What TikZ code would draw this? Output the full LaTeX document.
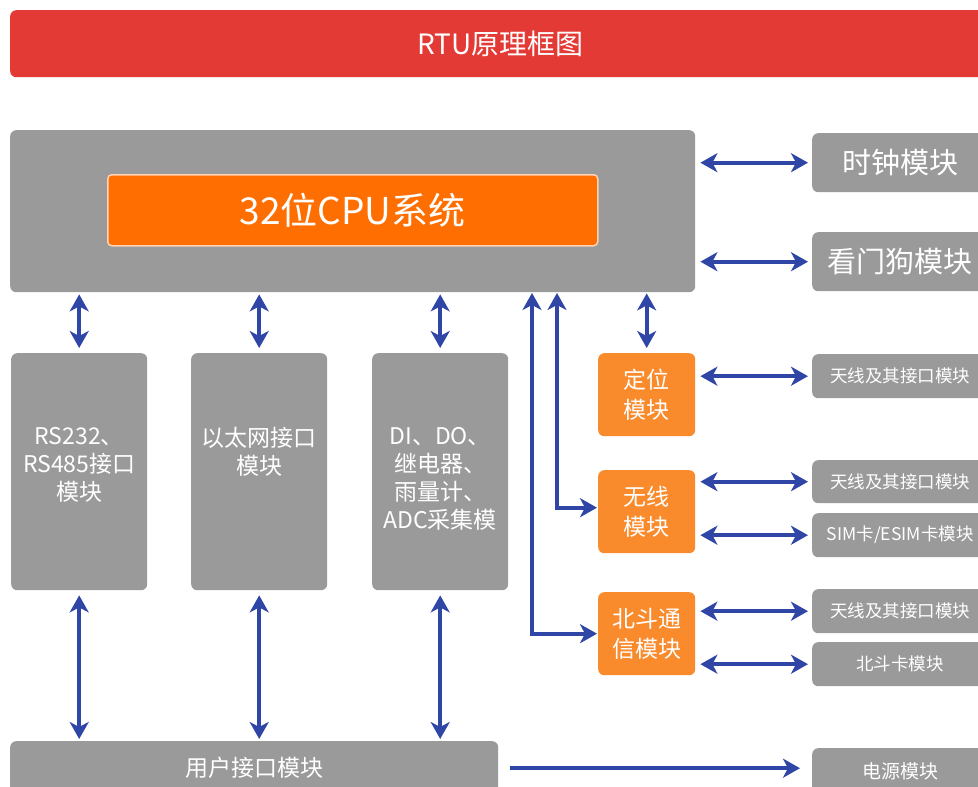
\documentclass[tikz,border=0pt]{standalone}
\usepackage{fontspec}
\setmainfont{Noto Sans CJK SC}
\usetikzlibrary{arrows.meta}
\definecolor{topred}{HTML}{E33A36}
\definecolor{boxgray}{HTML}{9A9A9A}
\definecolor{cpuor}{HTML}{FF6E00}
\definecolor{modor}{HTML}{FA8B2C}
\definecolor{arrblue}{HTML}{2F46A6}
\begin{document}
\begin{tikzpicture}[x=1pt,y=-1pt,
  box/.style={rounded corners=6pt, inner sep=0pt, anchor=north west, text=white, align=center},
  gbox/.style={box, fill=boxgray},
  obox/.style={box, fill=modor},
  link/.style={draw=arrblue, line width=4pt},
  coltext/.style={anchor=north, inner sep=0pt, text=white, align=center, font=\fontsize{23}{28}\selectfont},
  >={Stealth[length=17pt,width=19pt,inset=5pt]}]
\useasboundingbox (0,0) rectangle (978,787);
\clip (0,0) rectangle (978,787);

% title
\node[box, fill=topred, minimum width=980pt, minimum height=67pt, font=\fontsize{28}{34}\selectfont] (title) at (10,10) {RTU原理框图};

% system
\node[gbox, minimum width=685pt, minimum height=162pt] (sys) at (10,130) {};
\node[box, fill=cpuor, draw=white!70!cpuor, line width=1.5pt, rounded corners=4pt, minimum width=490pt, minimum height=71pt, font=\fontsize{37}{44}\selectfont] (cpu) at (107,174) {32位CPU系统};

% right top modules
\node[gbox, minimum width=176pt, minimum height=59pt, font=\fontsize{29}{34}\selectfont] (clk) at (812,133) {时钟模块};
\node[gbox, minimum width=176pt, minimum height=59pt, font=\fontsize{29}{34}\selectfont] (wdg) at (812,232) {看门狗模块};

% columns
\node[gbox, minimum width=136pt, minimum height=237pt] (c1) at (11,353) {};
\node[gbox, minimum width=136pt, minimum height=237pt] (c2) at (191,353) {};
\node[gbox, minimum width=136pt, minimum height=237pt] (c3) at (372,353) {};
\node[coltext] (c1t) at ([yshift=-74pt]c1.north) {RS232、\\RS485接口\\模块};
\node[coltext] (c2t) at ([yshift=-74pt]c2.north) {以太网接口\\模块};
\node[coltext] (c3t) at ([yshift=-74pt]c3.north) {DI、DO、\\继电器、\\雨量计、\\ADC采集模};

% orange modules
\node[obox, minimum width=97pt, minimum height=83pt, font=\fontsize{23}{30}\selectfont] (dw) at (598,353) {定位\\模块};
\node[obox, minimum width=97pt, minimum height=83pt, font=\fontsize{23}{30}\selectfont] (wx) at (598,470) {无线\\模块};
\node[obox, minimum width=97pt, minimum height=83pt, font=\fontsize{23}{30}\selectfont] (bd) at (598,592) {北斗通\\信模块};

% right small modules
\tikzset{sbox/.style={gbox, minimum width=176pt, minimum height=44pt, font=\fontsize{17.5}{21}\selectfont}}
\node[sbox] (a1) at (812,354) {天线及其接口模块};
\node[sbox, minimum height=43pt] (a2) at (812,460) {天线及其接口模块};
\node[sbox] (sim) at (812,513) {SIM卡/ESIM卡模块};
\node[sbox] (a3) at (812,589) {天线及其接口模块};
\node[sbox] (bk) at (812,642) {北斗卡模块};

% bottom
\node[gbox, minimum width=488pt, minimum height=54pt, font=\fontsize{23}{28}\selectfont] (user) at (10,741) {用户接口模块};
\node[gbox, minimum width=176pt, minimum height=46pt, font=\fontsize{19}{23}\selectfont] (pw) at (812,748) {电源模块};

% connectors
\draw[link,<->,shorten <=5pt,shorten >=4pt] (sys.east |- clk.west) -- (clk.west);
\draw[link,<->,shorten <=5pt,shorten >=4pt] (sys.east |- wdg.west) -- (wdg.west);

\foreach \c in {c1,c2,c3}{
  \draw[link,<->,shorten <=2pt,shorten >=5pt] (sys.south -| \c.north) -- (\c.north);
  \draw[link,<->,shorten <=5pt,shorten >=2pt] (\c.south) -- (\c.south |- user.north);
}
\draw[link,<->,shorten <=1pt,shorten >=5pt] (sys.south -| dw.north) -- (dw.north);

\coordinate (wtop) at (557,292);
\coordinate (btop) at (532,292);
\draw[link,<->,shorten <=1pt,shorten >=1pt] (wtop) |- ([yshift=4pt]wx.west);
\draw[link,<->,shorten <=1pt,shorten >=1pt] (btop) |- (bd.west);

\draw[link,<->,shorten <=5pt,shorten >=4pt] (dw.east |- a1.west) -- (a1.west);
\draw[link,<->,shorten <=5pt,shorten >=4pt] (wx.east |- a2.west) -- (a2.west);
\draw[link,<->,shorten <=5pt,shorten >=4pt] (wx.east |- sim.west) -- (sim.west);
\draw[link,<->,shorten <=5pt,shorten >=4pt] (bd.east |- a3.west) -- (a3.west);
\draw[link,<->,shorten <=5pt,shorten >=4pt] (bd.east |- bk.west) -- (bk.west);

\draw[link,->,shorten <=12pt,shorten >=12pt] (user.east) -- (user.east -| pw.west);
\end{tikzpicture}
\end{document}
